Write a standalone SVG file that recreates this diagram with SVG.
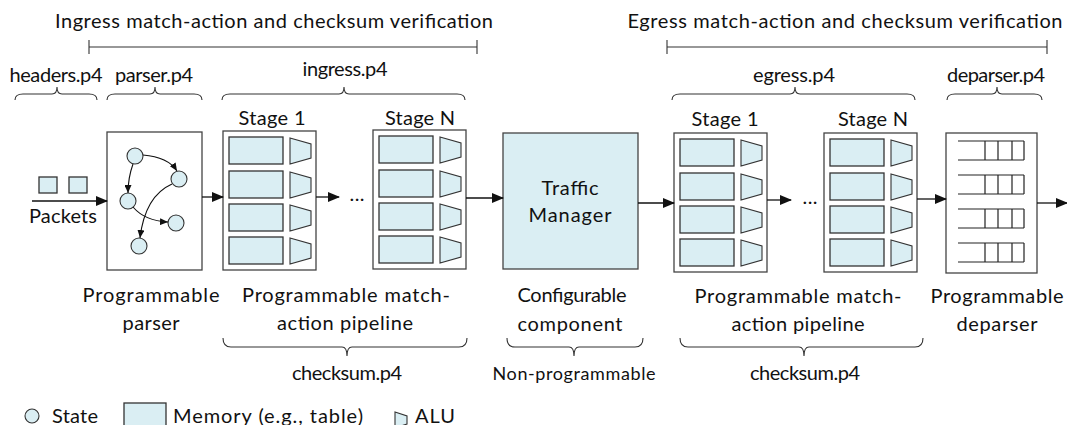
<svg xmlns="http://www.w3.org/2000/svg" xmlns:xlink="http://www.w3.org/1999/xlink" width="1067" height="425" viewBox="0 0 1067 425">
  <style>
    text { font-family: Lato, "Liberation Sans", sans-serif; font-size: 20px; fill: #111; }
    .small { font-size: 18px; }
    .box { fill: #fff; stroke: #444; stroke-width: 1.3; }
    .mem { fill: #daeef3; stroke: #333; stroke-width: 1.3; }
    .alu { fill: #daeef3; stroke: #333; stroke-width: 1.1; }
    .state { fill: #daeef3; stroke: #333; stroke-width: 1.1; }
    .tm { fill: #daeef3; stroke: #444; stroke-width: 1.3; }
    .brace { fill: none; stroke: #333; stroke-width: 1.1; }
    .range { fill: none; stroke: #333; stroke-width: 1.1; }
    .flow { fill: none; stroke: #111; stroke-width: 1.3; marker-end: url(#arrow); }
    .edge { fill: none; stroke: #111; stroke-width: 1.1; marker-end: url(#arrow-sm); }
    .queue { fill: none; stroke: #222; stroke-width: 1.2; }
  </style>
  <defs>
    <marker id="arrow" markerUnits="userSpaceOnUse" markerWidth="12" markerHeight="10" refX="11" refY="5" orient="auto">
      <path d="M0,0 L12,5 L0,10 z" fill="#111"/>
    </marker>
    <marker id="arrow-sm" markerUnits="userSpaceOnUse" markerWidth="8" markerHeight="7" refX="8" refY="3.5" orient="auto">
      <path d="M0,0 L8,3.5 L0,7 z" fill="#111"/>
    </marker>
    <!-- one memory table plus its ALU -->
    <g id="row">
      <rect class="mem" x="6" y="0" width="54" height="27"/>
      <path class="alu" d="M67,1 L88,7 L88,21 L67,27 z"/>
    </g>
    <!-- a match-action stage: four table/ALU rows -->
    <g id="stage-body">
      <rect class="box" x="0" y="0" width="93" height="139"/>
      <use xlink:href="#row" y="6"/>
      <use xlink:href="#row" y="40"/>
      <use xlink:href="#row" y="73"/>
      <use xlink:href="#row" y="106"/>
    </g>
    <!-- a deparser queue -->
    <g id="queue">
      <path class="queue" d="M0,0 H66 M0,19 H66 M27,0 V19 M40,0 V19 M54,0 V19 M66,0 V19"/>
    </g>
  </defs>

  <!-- top spans -->
  <g id="ingress-span">
    <text x="274" y="28" text-anchor="middle" textLength="438">Ingress match-action and checksum verification</text>
    <path class="range" d="M89,47 H477 M89,40 V54 M477,40 V54"/>
  </g>
  <g id="egress-span">
    <text x="845" y="28" text-anchor="middle" textLength="435">Egress match-action and checksum verification</text>
    <path class="range" d="M667,47 H1047 M667,40 V54 M1047,40 V54"/>
  </g>

  <!-- source file labels with braces -->
  <g id="file-labels">
    <text x="56" y="82" text-anchor="middle" textLength="93">headers.p4</text>
    <path class="brace" d="M15,100 Q15,94 23,94 L52,94 Q57,94 57,87 Q57,94 62,94 L89,94 Q97,94 97,100"/>
    <text x="154" y="82" text-anchor="middle" textLength="78">parser.p4</text>
    <path class="brace" d="M107,100 Q107,94 115,94 L150,94 Q155,94 155,87 Q155,94 160,94 L194,94 Q202,94 202,100"/>
    <text x="345" y="76" text-anchor="middle" textLength="85">ingress.p4</text>
    <path class="brace" d="M222,100 Q222,94 230,94 L339,94 Q344,94 344,87 Q344,94 349,94 L457,94 Q465,94 465,100"/>
    <text x="794" y="82" text-anchor="middle" textLength="82">egress.p4</text>
    <path class="brace" d="M672,100 Q672,94 680,94 L790,94 Q795,94 795,87 Q795,94 800,94 L907,94 Q915,94 915,100"/>
    <text x="996" y="82" text-anchor="middle" textLength="98">deparser.p4</text>
    <path class="brace" d="M947,100 Q947,94 955,94 L992,94 Q997,94 997,87 Q997,94 1002,94 L1034,94 Q1042,94 1042,100"/>
  </g>

  <!-- incoming packets -->
  <g id="packets">
    <rect class="mem" x="39" y="177" width="18" height="16"/>
    <rect class="mem" x="69" y="177" width="18" height="16"/>
    <text x="63" y="223" text-anchor="middle" textLength="68">Packets</text>
  </g>

  <!-- programmable parser: state machine -->
  <g id="parser">
    <rect class="box" x="107" y="132" width="95" height="138"/>
    <circle class="state" cx="135" cy="156" r="8"/>
    <circle class="state" cx="179" cy="179" r="8"/>
    <circle class="state" cx="128" cy="201" r="8"/>
    <circle class="state" cx="176" cy="223" r="8"/>
    <circle class="state" cx="139" cy="246" r="8"/>
    <path class="edge" d="M143,155 Q168,157 177,171"/>
    <path class="edge" d="M133,164 Q128,178 128,193"/>
    <path class="edge" d="M133,207 Q145,221 168,222"/>
    <path class="edge" d="M172,184 Q145,196 140,238"/>
    <text x="151" y="302" text-anchor="middle" textLength="137">Programmable</text>
    <text x="151" y="330" text-anchor="middle" textLength="57">parser</text>
  </g>

  <!-- ingress pipeline -->
  <g id="ingress-stage-1">
    <text x="272" y="125" text-anchor="middle" textLength="67">Stage 1</text>
    <use xlink:href="#stage-body" x="223" y="131"/>
  </g>
  <g id="ingress-stage-n">
    <text x="420" y="125" text-anchor="middle" textLength="70">Stage N</text>
    <use xlink:href="#stage-body" x="373" y="130"/>
  </g>
  <text x="357" y="201" text-anchor="middle" textLength="15">...</text>
  <g id="ingress-labels">
    <text x="346" y="302" text-anchor="middle" textLength="208">Programmable match-</text>
    <text x="345" y="330" text-anchor="middle" textLength="136">action pipeline</text>
    <path class="brace" d="M223,338 Q223,347 231,347 L342,347 Q347,347 347,356 Q347,347 352,347 L459,347 Q467,347 467,338"/>
    <text x="347" y="380" text-anchor="middle" textLength="110">checksum.p4</text>
  </g>

  <!-- traffic manager -->
  <g id="traffic-manager">
    <rect class="tm" x="503" y="133" width="135" height="136"/>
    <text x="570" y="195" text-anchor="middle" textLength="57">Traffic</text>
    <text x="570" y="222" text-anchor="middle" textLength="83">Manager</text>
    <text x="572" y="302" text-anchor="middle" textLength="109">Configurable</text>
    <text x="570" y="331" text-anchor="middle" textLength="105">component</text>
    <path class="brace" d="M507,338 Q507,347 515,347 L569,347 Q574,347 574,356 Q574,347 579,347 L635,347 Q643,347 643,338"/>
    <text class="small" x="574" y="380" text-anchor="middle" textLength="163">Non-programmable</text>
  </g>

  <!-- egress pipeline -->
  <g id="egress-stage-1">
    <text x="725" y="126" text-anchor="middle" textLength="67">Stage 1</text>
    <use xlink:href="#stage-body" x="674" y="133"/>
  </g>
  <g id="egress-stage-n">
    <text x="873" y="126" text-anchor="middle" textLength="70">Stage N</text>
    <use xlink:href="#stage-body" x="824" y="133"/>
  </g>
  <text x="810" y="204" text-anchor="middle" textLength="15">...</text>
  <g id="egress-labels">
    <text x="798" y="303" text-anchor="middle" textLength="207">Programmable match-</text>
    <text x="798" y="331" text-anchor="middle" textLength="133">action pipeline</text>
    <path class="brace" d="M680,338 Q680,347 688,347 L799,347 Q804,347 804,356 Q804,347 809,347 L915,347 Q923,347 923,338"/>
    <text x="805" y="380" text-anchor="middle" textLength="110">checksum.p4</text>
  </g>

  <!-- programmable deparser -->
  <g id="deparser">
    <rect class="box" x="946" y="133" width="91" height="140"/>
    <use xlink:href="#queue" x="958" y="141"/>
    <use xlink:href="#queue" x="958" y="175"/>
    <use xlink:href="#queue" x="958" y="209"/>
    <use xlink:href="#queue" x="958" y="243"/>
    <text x="997" y="303" text-anchor="middle" textLength="133">Programmable</text>
    <text x="997" y="331" text-anchor="middle" textLength="81">deparser</text>
  </g>

  <!-- data path -->
  <g id="connectors">
    <path class="flow" d="M32,201 H107"/>
    <path class="flow" d="M202,197 H223"/>
    <path class="flow" d="M316,197 H339"/>
    <path class="flow" d="M466,198 H503"/>
    <path class="flow" d="M638,203 H674"/>
    <path class="flow" d="M767,200 H791"/>
    <path class="flow" d="M917,199 H946"/>
    <path class="flow" d="M1037,203 H1067"/>
  </g>

  <!-- legend -->
  <g id="legend">
    <circle class="state" cx="32" cy="416" r="7"/>
    <text x="52" y="423" textLength="46">State</text>
    <rect class="mem" x="124" y="403" width="42" height="26"/>
    <text x="173" y="423" textLength="190">Memory (e.g., table)</text>
    <path class="alu" d="M395,412 L407,416 L407,424 L395,428 z"/>
    <text x="415" y="423" textLength="40">ALU</text>
  </g>
</svg>
